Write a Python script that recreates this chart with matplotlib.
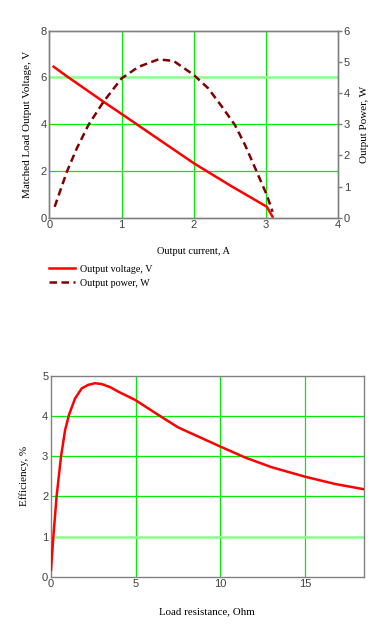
import matplotlib
matplotlib.use("Agg")
import matplotlib.pyplot as plt
from matplotlib.lines import Line2D

# ---- data ----
current_v = [0.06, 0.22, 0.75, 1.0, 1.53, 2.0, 2.53, 3.01, 3.09]
voltage = [6.46, 6.1, 4.96, 4.44, 3.32, 2.33, 1.33, 0.47, 0.04]

current_p = [0.074, 0.244, 0.38, 0.54, 0.75, 1.0, 1.235, 1.51, 1.72, 2.0, 2.2, 2.39,
             2.57, 2.71, 2.87, 3.01, 3.09]
power = [0.35, 1.48, 2.22, 2.97, 3.72, 4.47, 4.84, 5.08, 5.03, 4.58, 4.15, 3.56,
         2.97, 2.33, 1.48, 0.73, 0.19]

load_r = [0.0, 0.14, 0.33, 0.59, 0.83, 1.06, 1.42, 1.81, 2.2, 2.6, 2.99, 3.5, 3.97, 4.98,
          6.33, 7.5, 8.8, 10.0, 11.45, 13.0, 15.0, 16.76, 18.45]
efficiency = [0.17, 1.0, 2.0, 2.99, 3.65, 4.03, 4.44, 4.69, 4.78, 4.82, 4.80, 4.72, 4.61,
              4.40, 4.03, 3.72, 3.47, 3.24, 2.97, 2.73, 2.49, 2.31, 2.18]

top_xticks = [0, 1, 2, 3, 4]
top_yticks_left = [0, 2, 4, 6, 8]
top_yticks_right = [0, 1, 2, 3, 4, 5, 6]
bot_xticks = [0, 5, 10, 15]
bot_yticks = [0, 1, 2, 3, 4, 5]

W, H = 391, 633
fig = plt.figure(figsize=(W / 100, H / 100), dpi=100)

SERIF = ["Liberation Serif", "DejaVu Serif"]
SANS = ["Liberation Sans", "DejaVu Sans"]
GRID = "#00ee00"
SPINE = "#808080"
TICKC = "#404040"
RED = "#ff0000"
DARKRED = "#800000"
DASH = (0, (3, 1.8))

def style_axes(ax):
    for s in ax.spines.values():
        s.set_color(SPINE)
        s.set_linewidth(1.0)
    ax.tick_params(length=0, pad=2, labelsize=8, labelcolor=TICKC)
    for lab in ax.get_xticklabels() + ax.get_yticklabels():
        lab.set_fontfamily(SANS)
    ax.grid(True, color=GRID, linewidth=0.9)
    ax.set_axisbelow(True)

# ---- top chart ----
ax1 = fig.add_axes([49.3 / W, 1 - 217.7 / H, (338.3 - 49.3) / W, (217.7 - 30.7) / H])
ax1.set_xlim(0, 4)
ax1.set_ylim(0, 8)
ax1.set_xticks(top_xticks)
ax1.set_yticks(top_yticks_left)
style_axes(ax1)
gl = ax1.yaxis.get_gridlines()
gl[3].set_color("#88ff88")
gl[3].set_linewidth(1.8)
gl[0].set_visible(False)
gl[4].set_visible(False)
ax1.xaxis.get_gridlines()[0].set_visible(False)
ax1.xaxis.get_gridlines()[4].set_visible(False)

ax1.plot(current_v, voltage, color=RED, linewidth=1.8, zorder=3)
ax1.set_ylabel("Matched Load Output Voltage, V", fontfamily=SERIF, fontsize=8, labelpad=6)
ax1.set_xlabel("Output current, A", fontfamily=SERIF, fontsize=7.5, labelpad=12)

ax2 = ax1.twinx()
ax2.set_ylim(0, 6)
ax2.set_yticks(top_yticks_right)
for s in ax2.spines.values():
    s.set_color(SPINE)
    s.set_linewidth(1.0)
ax2.tick_params(axis="y", length=3, width=1, color=SPINE, pad=1, labelsize=8, labelcolor=TICKC)
for lab in ax2.get_yticklabels():
    lab.set_fontfamily(SANS)
ax2.plot(current_p, power, color=DARKRED, linewidth=1.8, linestyle=DASH, zorder=3)
ax2.set_ylabel("Output Power, W", fontfamily=SERIF, fontsize=8, labelpad=7)

handles = [Line2D([], [], color=RED, linewidth=1.8),
           Line2D([], [], color=DARKRED, linewidth=1.8, linestyle=DASH)]
fig.legend(handles, ["Output voltage, V", "Output power, W"],
           loc="upper left", bbox_to_anchor=(49 / W, 1 - 264.5 / H),
           frameon=False, handlelength=2.6, handletextpad=0.45,
           labelspacing=0.5, borderpad=0, borderaxespad=0,
           prop={"family": SERIF, "size": 7.2})

# ---- bottom chart ----
ax3 = fig.add_axes([51 / W, 1 - 576.7 / H, (363.7 - 51) / W, (576.7 - 376) / H])
ax3.set_xlim(0, 18.45)
ax3.set_ylim(0, 5)
ax3.set_xticks(bot_xticks)
ax3.set_yticks(bot_yticks)
style_axes(ax3)
ax3.xaxis.get_gridlines()[0].set_visible(False)
g3 = ax3.yaxis.get_gridlines()
g3[0].set_visible(False)
g3[5].set_visible(False)
g3[1].set_color("#88ff88")
g3[1].set_linewidth(1.8)
ax3.plot(load_r, efficiency, color=RED, linewidth=1.8, zorder=3)
ax3.set_ylabel("Efficiency, %", fontfamily=SERIF, fontsize=8, labelpad=9)
ax3.set_xlabel("Load resistance, Ohm", fontfamily=SERIF, fontsize=7.8, labelpad=13)

fig.savefig("out.png", dpi=100)
